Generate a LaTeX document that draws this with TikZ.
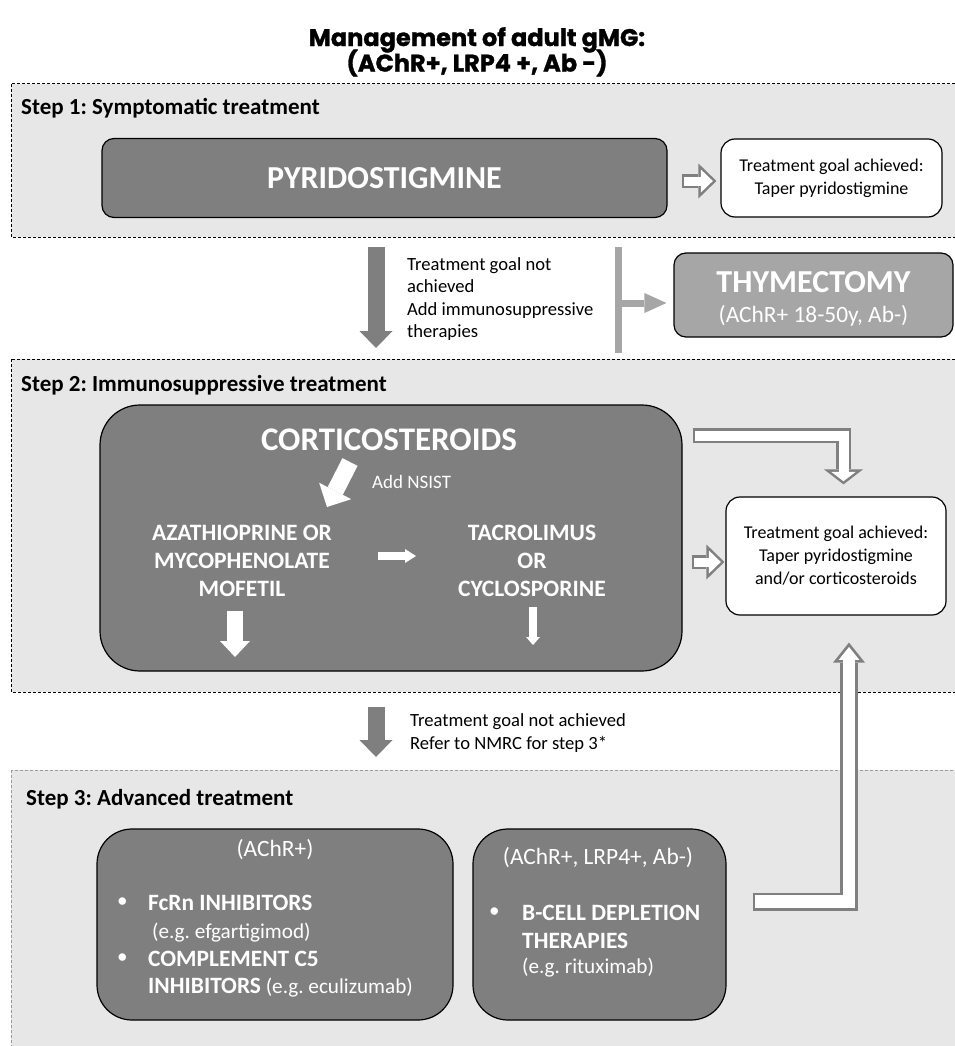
\documentclass[tikz,border=0pt]{standalone}
\usepackage{fontspec}
\setmainfont{Carlito}
\newfontfamily\titlefont{Poppins}[BoldFeatures={FakeBold=1.2}]
\usetikzlibrary{arrows.meta,positioning}
\definecolor{panelgray}{HTML}{E7E7E7}
\definecolor{boxgray}{HTML}{7F7F7F}
\definecolor{thygray}{HTML}{A6A6A6}
\definecolor{edgegray}{HTML}{808080}
\definecolor{dashgray}{HTML}{9A9A9A}
\frenchspacing

\begin{document}
\begin{tikzpicture}[x=1pt,y=-1pt,line join=miter]
	\tikzstyle{panel}=[fill=panelgray,draw=black,line width=1pt,dash pattern=on 3pt off 2pt]
	\tikzstyle{steplabel}=[anchor=west,inner sep=0pt,font=\fontsize{23}{27}\selectfont\bfseries]
	\tikzstyle{darkbox}=[draw=black,fill=boxgray,line width=1.2pt,text=white,inner sep=0pt]
	\tikzstyle{goalbox}=[draw=black,fill=white,line width=1.2pt,rounded corners=14pt,align=center,inner sep=0pt,font=\fontsize{18}{23}\selectfont]
	\tikzstyle{note}=[anchor=west,align=left,inner sep=0pt,font=\fontsize{18.6}{22.5}\selectfont]
	\tikzstyle{capsbig}=[text=white,inner sep=0pt,font=\fontsize{33}{38}\selectfont\bfseries]
	\tikzstyle{capsmid}=[text=white,inner sep=0pt,align=center,font=\fontsize{23.5}{28}\selectfont\bfseries]
	\tikzstyle{whitetext}=[text=white,inner sep=0pt,font=\fontsize{23.4}{26}\selectfont]
	\tikzstyle{itembold}=[text=white,inner sep=0pt,anchor=west,font=\fontsize{23.4}{27}\selectfont\bfseries]
	\tikzstyle{itemnote}=[text=white,inner sep=0pt,anchor=west,font=\fontsize{21.2}{25}\selectfont]
	% block arrows
	\tikzstyle{darrow}=[draw=boxgray,line width=17pt,-{Triangle[length=17pt,width=33pt,line width=0pt]}]
	\tikzstyle{thyline}=[draw=thygray,line width=7pt]
	\tikzstyle{thyarrow}=[draw=thygray,line width=7pt,-{Triangle[length=22pt,width=20pt,line width=0pt]}]
	\tikzstyle{nsistarrow}=[draw=white,line width=17pt,-{Triangle[length=18pt,width=36pt,line width=0pt]}]
	\tikzstyle{wsmall}=[draw=white,line width=8pt,-{Triangle[length=11pt,width=14pt,line width=0pt]}]
	\tikzstyle{wdown}=[draw=white,line width=16pt,-{Triangle[length=16pt,width=30pt,line width=0pt]}]
	\tikzstyle{wdownthin}=[draw=white,line width=8pt,-{Triangle[length=8pt,width=14pt,line width=0pt]}]
	% hollow arrows: gray pass, then white pass
	\tikzstyle{hollowout}=[draw=edgegray,line width=14pt,-{Triangle[length=18pt,width=35pt,line width=0pt]}]
	\tikzstyle{hollowin}=[draw=white,line width=9pt,-{Triangle[length=11.9pt,width=23pt,line width=0pt]}]
	\tikzstyle{bentout}=[draw=edgegray,line width=15pt,-{Triangle[length=15pt,width=39pt,line width=0pt]}]
	\tikzstyle{bentin}=[draw=white,line width=10pt,-{Triangle[length=9.35pt,width=24.3pt,line width=0pt]}]
	\tikzstyle{upout}=[draw=edgegray,line width=18pt,-{Triangle[length=20pt,width=32pt,line width=0pt]}]
	\tikzstyle{upin}=[draw=white,line width=12.5pt,-{Triangle[length=12.85pt,width=20.6pt,line width=0pt]}]

	\useasboundingbox (0,0) rectangle (954,1046);

	\node[align=center,inner sep=0pt,anchor=north,font=\titlefont\bfseries\fontsize{24}{24}\selectfont] (title) at (477,27) {Management of adult gMG:\\[-4pt](AChR+, LRP4 +, Ab -)};

	% Step 1
	\draw[panel] (11,84) rectangle (960,237);
	\node[steplabel] (step1) at (21,108) {Step 1: Symptomatic treatment};
	\node[darkbox,rounded corners=12pt,minimum width=565pt,minimum height=79pt,font=\fontsize{32}{36}\selectfont\bfseries] (pyr) at (384.5,178) {PYRIDOSTIGMINE};
	\node[goalbox,minimum width=221pt,minimum height=78pt] (goal1) at (831.5,178) {Treatment goal achieved:\\Taper pyridostigmine};
	\draw[hollowout,shorten <=14pt,shorten >=4pt] ([yshift=-3pt]pyr.east) -- ([yshift=-3pt]goal1.west);
	\draw[hollowin,shorten <=16.5pt,shorten >=7.6pt] ([yshift=-3pt]pyr.east) -- ([yshift=-3pt]goal1.west);

	% between step 1 and step 2
	\coordinate (fail1a) at (376,247);
	\coordinate (fail1b) at (376,348);
	\draw[darrow] (fail1a) -- (fail1b);
	\node[note] (fail1) at (407,299) {Treatment goal not\\achieved\\Add immunosuppressive\\therapies};
	\coordinate (thytop) at (618,247);
	\coordinate (thybot) at (618,353);
	\coordinate (thyfork) at (618,303);
	\draw[thyline] (thytop) -- (thybot);
	\node[darkbox,fill=thygray,rounded corners=12pt,minimum width=279pt,minimum height=84pt] (thy) at (813.5,295) {};
	\node[capsbig,font=\fontsize{32}{36}\selectfont\bfseries] (thyname) at (813.5,282) {THYMECTOMY};
	\node[whitetext] (thysub) at (813.5,316) {(AChR+ 18-50y, Ab-)};
	\draw[thyarrow,shorten >=7pt] (thyfork) -- (thyfork -| thy.west);

	% Step 2
	\draw[panel] (11,359) rectangle (960,692);
	\node[steplabel] (step2) at (21,385) {Step 2: Immunosuppressive treatment};
	\node[darkbox,rounded corners=40pt,minimum width=582pt,minimum height=266pt] (ist) at (391,538) {};
	\node[capsbig] (cort) at (389,440) {CORTICOSTEROIDS};
	\coordinate (nsista) at (350,462);
	\coordinate (nsistb) at (327,507);
	\draw[nsistarrow] (nsista) -- (nsistb);
	\node[whitetext,anchor=west,font=\fontsize{19}{22}\selectfont] (nsist) at (372,482) {Add NSIST};
	\node[capsmid] (aza) at (242,561) {AZATHIOPRINE OR\\MYCOPHENOLATE\\MOFETIL};
	\node[capsmid] (tac) at (532,561) {TACROLIMUS\\OR\\CYCLOSPORINE};
	\coordinate (switcha) at (378,556);
	\coordinate (switchb) at (416,556);
	\draw[wsmall] (switcha) -- (switchb);
	\coordinate (azadowna) at (235,611);
	\coordinate (azadownb) at (235,657);
	\draw[wdown] (azadowna) -- (azadownb);
	\coordinate (tacdowna) at (533,607);
	\coordinate (tacdownb) at (533,645);
	\draw[wdownthin] (tacdowna) -- (tacdownb);
	\node[goalbox,minimum width=220pt,minimum height=118pt] (goal2) at (836,556) {Treatment goal achieved:\\Taper pyridostigmine\\and/or corticosteroids};
	\draw[hollowout,shorten <=9pt,shorten >=1pt] ([yshift=-24pt]ist.east) -- ([yshift=-6pt]goal2.west);
	\draw[hollowin,shorten <=11.5pt,shorten >=4.6pt] ([yshift=-24pt]ist.east) -- ([yshift=-6pt]goal2.west);
	\draw[bentout,shorten <=10pt,shorten >=12pt] ([yshift=102.5pt]ist.east) -| ([xshift=7.5pt]goal2.north);
	\draw[bentin,shorten <=12.5pt,shorten >=15.15pt] ([yshift=102.5pt]ist.east) -| ([xshift=7.5pt]goal2.north);

	% between step 2 and step 3
	\coordinate (fail2a) at (376,707);
	\coordinate (fail2b) at (376,757);
	\draw[darrow] (fail2a) -- (fail2b);
	\node[note] (fail2) at (410,733) {Treatment goal not achieved\\Refer to NMRC for step 3*};

	% Step 3
	\draw[panel,draw=dashgray] (11,770) rectangle (960,1052);
	\node[steplabel] (step3) at (26,799) {Step 3: Advanced treatment};
	\node[darkbox,rounded corners=35pt,minimum width=356pt,minimum height=191pt] (fcrnbox) at (275,924.5) {};
	\node[darkbox,rounded corners=35pt,minimum width=253pt,minimum height=191pt] (bcellbox) at (599.5,924.5) {};
	\node[whitetext] (achr) at (275,850) {(AChR+)};
	\node[itemnote] (dot1) at (117,903) {\textbullet};
	\node[itembold] (fcrn) at (148,903) {FcRn INHIBITORS};
	\node[itemnote] (efg) at (152,933) {(e.g. efgartigimod)};
	\node[itemnote] (dot2) at (117,959) {\textbullet};
	\node[itembold] (compl) at (148,959) {COMPLEMENT C5};
	\node[itembold] (inhib) at (148,988) {INHIBITORS\mdseries\fontsize{21.2}{25}\selectfont\ (e.g. eculizumab)};
	\node[whitetext] (achrlrp) at (598,858) {(AChR+, LRP4+, Ab-)};
	\node[itemnote] (dot3) at (489,913) {\textbullet};
	\node[itembold] (bcell) at (522,913) {B-CELL DEPLETION};
	\node[itembold] (ther) at (522,941) {THERAPIES};
	\node[itemnote] (ritux) at (522,968) {(e.g. rituximab)};
	\draw[upout] ([xshift=26pt,yshift=23pt]bcellbox.east) -| ([xshift=13pt,yshift=-27pt]goal2.south);
	\draw[upin,shorten <=2.75pt,shorten >=4.4pt] ([xshift=26pt,yshift=23pt]bcellbox.east) -| ([xshift=13pt,yshift=-27pt]goal2.south);
\end{tikzpicture}
\end{document}
